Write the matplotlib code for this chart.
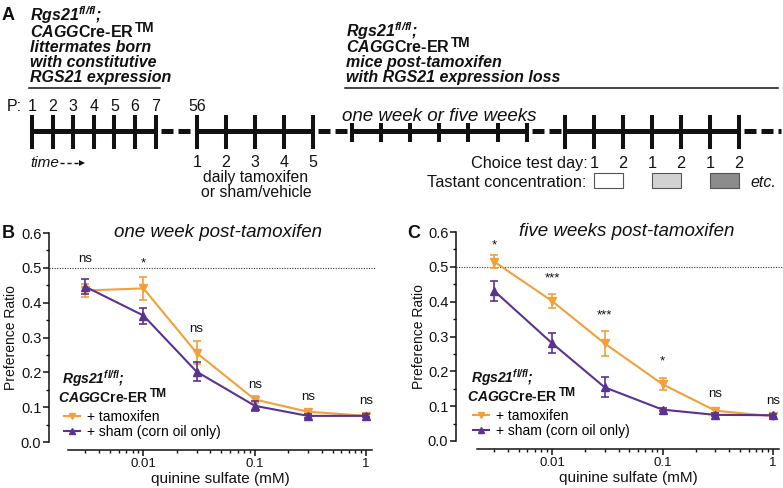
import numpy as np
import matplotlib.pyplot as plt
from matplotlib.lines import Line2D
from matplotlib.patches import Rectangle

plt.rcParams['font.family'] = ['Liberation Sans', 'DejaVu Sans']
plt.rcParams['mathtext.fontset'] = 'custom'
plt.rcParams['mathtext.rm'] = 'Liberation Sans'
plt.rcParams['mathtext.it'] = 'Liberation Sans:italic'
plt.rcParams['mathtext.bf'] = 'Liberation Sans:bold'
plt.rcParams['mathtext.bfit'] = 'Liberation Sans:bold:italic'

# quinine concentrations (mM)
conc = [0.003, 0.01, 0.03, 0.1, 0.3, 1]

# B : one week post-tamoxifen
b_tam = [0.435, 0.441, 0.256, 0.122, 0.087, 0.075]
b_tam_err = [0.020, 0.033, 0.033, 0.009, 0.005, 0.004]
b_sham = [0.446, 0.363, 0.202, 0.104, 0.075, 0.075]
b_sham_err = [0.022, 0.023, 0.027, 0.014, 0.005, 0.004]
b_sig = ['ns', '*', 'ns', 'ns', 'ns', 'ns']
b_sig_y = [0.525, 0.525, 0.325, 0.163, 0.129, 0.117]

# C : five weeks post-tamoxifen
c_tam = [0.515, 0.402, 0.280, 0.163, 0.087, 0.071]
c_tam_err = [0.019, 0.019, 0.037, 0.017, 0.006, 0.004]
c_sham = [0.431, 0.281, 0.154, 0.090, 0.075, 0.074]
c_sham_err = [0.029, 0.028, 0.029, 0.004, 0.004, 0.004]
c_sig = ['*', '***', '***', '*', 'ns', 'ns']
c_sig_y = [0.573, 0.478, 0.372, 0.239, 0.136, 0.115]

# A : timeline labels
p_days = ['1', '2', '3', '4', '5', '6', '7']
tam_days = ['1', '2', '3', '4', '5']
test_days = ['1', '2', '1', '2', '1', '2']
tastant_shades = ['white', '#d2d2d2', '#8c8c8c']

ORANGE = '#F2A03A'
PURPLE = '#5A3290'
INK = '#111111'

fig = plt.figure(figsize=(7.83, 4.88), dpi=100)


def cre_line(ax, x, y, size, tm_size, transform=None):
    # "CAGGCre-ER" then a large superscript TM tucked after it
    kw = {} if transform is None else {'transform': transform}
    t = ax.text(x, y, r'$\mathbfit{CAGG}$Cre-ER', fontsize=size, fontweight='bold',
                va='baseline', color=INK, **kw)
    ax.annotate('TM', xy=(1, 1), xycoords=t, xytext=(0.8, 2.0),
                textcoords='offset points', fontsize=tm_size, fontweight='bold',
                ha='left', va='top', color=INK)
    return t


# ---------------- panel A (drawn in pixel space) ----------------
axA = fig.add_axes([0, 0, 1, 1])
axA.set_xlim(0, 783)
axA.set_ylim(488, 0)
axA.axis('off')
axA.patch.set_alpha(0)

axA.text(2, 20, 'A', fontsize=13, fontweight='bold', va='baseline', color=INK)

rgs = r'$\mathbfit{Rgs21}^{\mathbfit{fl/fl}}$;'
left_lines = ['littermates born', 'with constitutive', 'RGS21 expression']
right_lines = ['mice post-tamoxifen', 'with RGS21 expression loss']
base_y = [21, 37, 52, 67, 82]

axA.text(30, base_y[0], rgs, fontsize=11.5, fontweight='bold', style='italic',
         va='baseline', color=INK)
cre_line(axA, 30, base_y[1], 11.5, 9.8)
for i, s in enumerate(left_lines):
    axA.text(30, base_y[i + 2], s, fontsize=11.5, fontweight='bold', style='italic',
             va='baseline', color=INK)
axA.text(346, base_y[1], rgs, fontsize=11.5, fontweight='bold', style='italic',
         va='baseline', color=INK)
cre_line(axA, 346, base_y[2], 11.5, 9.8)
for i, s in enumerate(right_lines):
    axA.text(346, base_y[i + 3], s, fontsize=11.5, fontweight='bold', style='italic',
             va='baseline', color=INK)
axA.plot([29, 160], [88, 88], color=INK, lw=1.1)
axA.plot([345, 778], [88, 88], color=INK, lw=1.1)

# timeline segments
line_y = 130.5
seg1 = 32 + 20.6 * np.arange(7)
seg2 = 197 + 29 * np.arange(5)
seg3 = 352 + 29.1 * np.arange(7)
seg4 = 565 + 29 * np.arange(7)
lw_main = 3.6
dash = (2.4, (2.4, 1.0))
for seg in [seg1, seg2, seg3, seg4]:
    axA.plot([seg[0], seg[-1]], [line_y, line_y], color=INK, lw=lw_main,
             solid_capstyle='butt')
ends = [(seg1[-1], seg2[0]), (seg2[-1], seg3[0]), (seg3[-1], seg4[0]),
        (seg4[-1], 781)]
for a, b in ends:
    axA.plot([a, b], [line_y, line_y], color=INK, lw=lw_main, linestyle=dash,
             dash_capstyle='butt')
for seg in [seg1, seg2, seg4]:
    axA.vlines(seg, 115, 149, color=INK, lw=2.9)
axA.vlines(seg3, 123, 142, color=INK, lw=2.9)

axA.text(7, 111, 'P:', fontsize=11.5, va='baseline', color=INK)
for x, s in zip(seg1, p_days):
    axA.text(x, 111, s, fontsize=11.5, ha='center', va='baseline', color=INK)
axA.text(seg2[0], 111, '56', fontsize=11.5, ha='center', va='baseline', color=INK)
for x, s in zip(seg2, tam_days):
    axA.text(x, 167, s, fontsize=11.5, ha='center', va='baseline', color=INK)
axA.text(256, 182, 'daily tamoxifen', fontsize=11.3, ha='center', va='baseline',
         color=INK)
axA.text(256, 197, 'or sham/vehicle', fontsize=11.3, ha='center', va='baseline',
         color=INK)

axA.text(30, 167, 'time', fontsize=11, style='italic', va='baseline', color=INK)
axA.plot([60, 81], [162.5, 162.5], color=INK, lw=1.0, linestyle=(0, (3, 2)))
axA.plot([82], [162.5], marker='>', ms=5, color=INK, mew=0)

axA.text(439, 121, 'one week or five weeks', fontsize=13.5, style='italic',
         ha='center', va='baseline', color=INK)

axA.text(588, 168, 'Choice test day:', fontsize=11.7, ha='right', va='baseline',
         color=INK)
for x, s in zip(seg4[1:], test_days):
    axA.text(x, 168, s, fontsize=11.7, ha='center', va='baseline', color=INK)
axA.text(586, 187, 'Tastant concentration:', fontsize=11.7, ha='right',
         va='baseline', color=INK)
for k, shade in enumerate(tastant_shades):
    x0 = seg4[1 + 2 * k]
    axA.add_patch(Rectangle((x0, 173), seg4[2 + 2 * k] - x0, 15, facecolor=shade,
                            edgecolor='#555555', lw=0.8))
axA.text(750, 187, 'etc.', fontsize=11.5, style='italic', va='baseline', color=INK)


# ---------------- panels B and C ----------------
def draw_panel(rect, spine_out, tam, tam_err, sham, sham_err, sig, sig_y,
               title, letter, letter_x, ylab_x):
    ax = fig.add_axes(rect)
    ax.set_xscale('log')
    ax.set_xlim(0.0021, 1.13)
    ax.set_ylim(0, 0.6)

    ax.errorbar(conc, tam, yerr=tam_err, color=ORANGE, marker='v', ms=5.5,
                lw=1.5, elinewidth=1.2, capsize=3, capthick=1.2, clip_on=False,
                zorder=3)
    ax.errorbar(conc, sham, yerr=sham_err, color=PURPLE, marker='^', ms=5.5,
                lw=1.5, elinewidth=1.2, capsize=3, capthick=1.2, clip_on=False,
                zorder=4)

    # chance line
    ax.plot([-spine_out / 300, 1.012], [0.5, 0.5], transform=ax.get_yaxis_transform(),
            color='#333333', lw=0.8, linestyle=(0, (1, 1.3)), clip_on=False)

    for x, s, y in zip(conc, sig, sig_y):
        yy = y - 0.012 if '*' in s else y
        ax.text(x, yy, s, fontsize=9.5, ha='center', va='center', color=INK)

    for side in ['top', 'right']:
        ax.spines[side].set_visible(False)
    ax.spines['left'].set_position(('outward', spine_out * 0.72))
    ax.spines['bottom'].set_position(('outward', 5.8))
    for side in ['left', 'bottom']:
        ax.spines[side].set_linewidth(1.1)
        ax.spines[side].set_color(INK)

    ax.set_yticks(np.arange(0, 0.61, 0.1))
    ax.set_yticks(np.arange(0.05, 0.6, 0.1), minor=True)
    ax.set_yticklabels([f'{v:.1f}' for v in np.arange(0, 0.61, 0.1)])
    ax.set_xticks([0.01, 0.1, 1])
    ax.set_xticklabels(['0.01', '0.1', '1'])
    ax.tick_params(axis='y', which='major', length=4, width=1.1, pad=1.5,
                   labelsize=10.5, colors=INK)
    ax.tick_params(axis='y', which='minor', length=2.5, width=1.0, colors=INK)
    ax.tick_params(axis='x', which='major', length=4, width=1.1, pad=2,
                   labelsize=9.5, colors=INK)
    ax.tick_params(axis='x', which='minor', length=2.5, width=1.0, colors=INK)

    ax.set_ylabel('Preference Ratio', fontsize=10, color=INK)
    ax.yaxis.set_label_coords(ylab_x, 0.5)
    ax.set_xlabel('quinine sulfate (mM)', fontsize=11, color=INK, labelpad=1)

    ax.text(0.495, 0.981, title, transform=ax.transAxes, fontsize=13.5,
            style='italic', ha='center', va='baseline', color=INK)
    fig.text(letter_x / 783, 1 - 238 / 488, letter, fontsize=13,
             fontweight='bold', va='baseline', color=INK)

    # legend with genotype header
    ty = ax.get_yaxis_transform()
    ax.text(-0.02, 0.168, rgs, transform=ty, fontsize=10, fontweight='bold',
            style='italic', va='baseline', color=INK)
    cre_line(ax, -0.033, 0.115, 10, 8.6, transform=ty)
    h1 = Line2D([], [], color=ORANGE, marker='v', ms=5, lw=1.5)
    h2 = Line2D([], [], color=PURPLE, marker='^', ms=5, lw=1.5)
    ax.legend([h1, h2], ['+ tamoxifen', '+ sham (corn oil only)'],
              loc='upper left', bbox_to_anchor=(-0.012, 0.152), frameon=False,
              borderpad=0, borderaxespad=0, handlelength=1.1, handletextpad=0.5,
              labelspacing=0.02, fontsize=10)
    return ax


draw_panel([68 / 783, 46 / 488, 304 / 783, 209 / 488], 19,
           b_tam, b_tam_err, b_sham, b_sham_err, b_sig, b_sig_y,
           'one week post-tamoxifen', 'B', 2, -0.163)
draw_panel([477 / 783, 47 / 488, 302 / 783, 209 / 488], 21,
           c_tam, c_tam_err, c_sham, c_sham_err, c_sig, c_sig_y,
           'five weeks post-tamoxifen', 'C', 407, -0.168)

fig.savefig('out.png', dpi=100)
